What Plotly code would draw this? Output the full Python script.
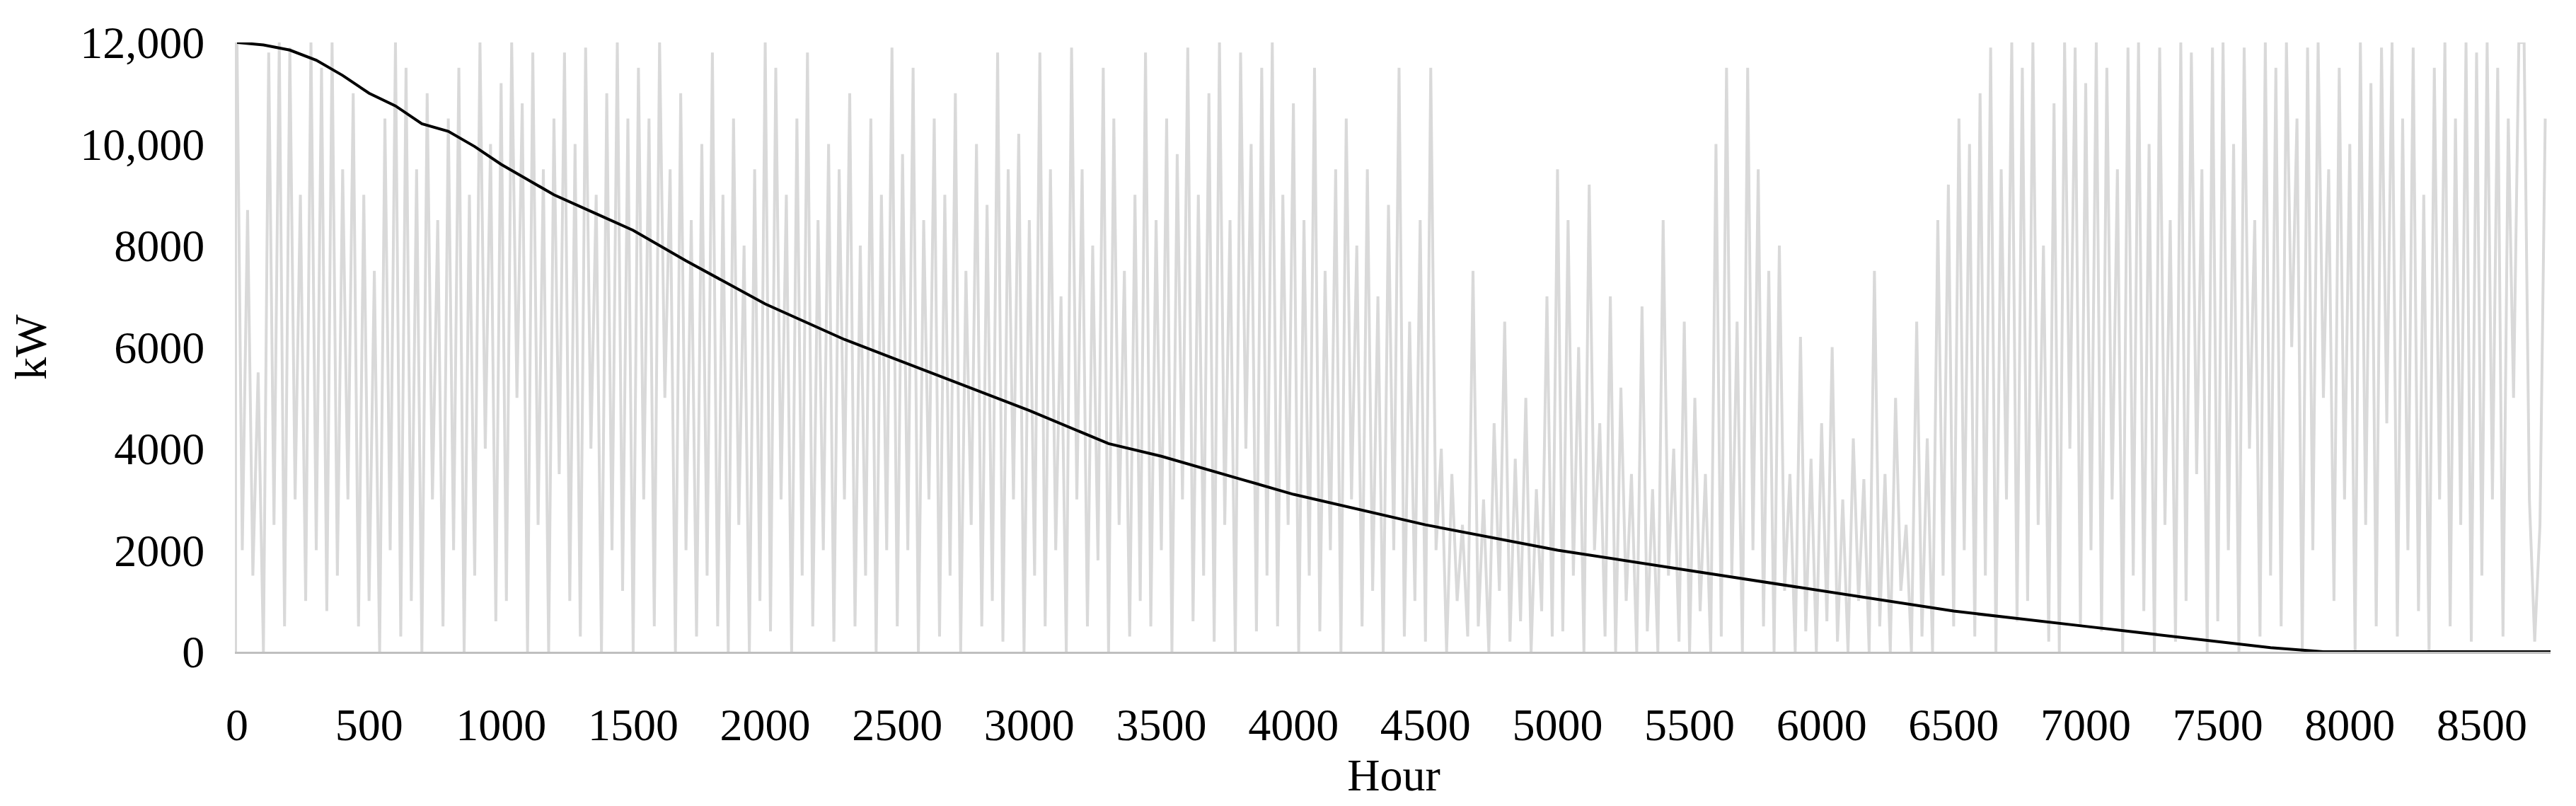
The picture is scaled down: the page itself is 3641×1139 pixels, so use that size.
import plotly.graph_objects as pgo

gray_mw = [
    12.0,2,8.7,1.5,5.5,0,11.8,2.5,12,0.5,11.9,3,9,1,12,2,11.5,0.8,12,1.5,9.5,3,11,0.5,9,
    1,7.5,0,10.5,2,12,0.3,11.5,1,9.5,0,11,3,8.5,0.5,10.5,2,11.5,0,9,1.5,12,4,10,0.6,
    11.2,1,12,5,10.8,0,11.8,2.5,9.5,0,10.5,3.5,11.8,1,10,0.3,11.9,4,9,0,11,2,12,1.2,10.5,
    0,11.5,3,10.5,0.5,12,5,9.5,0,11,2,8.5,0.3,10,1.5,11.8,0.5,9,0,10.5,2.5,8,0,9.5,1,
    12,0.4,11.5,3,9,0,10.5,1.5,11.8,0.5,8.5,2,10,0.2,9.5,3,11,0.5,8,1.5,10.5,0,9,2,11.9,
    0.5,9.8,2,11.5,0,8.5,3,10.5,0.3,9,1.5,11,0,7.5,2.5,10,0.5,8.8,1,11.8,0.2,9.5,3,10.2,0,
    8.5,1.5,11.8,0.5,9.5,2,7,0,11.9,3,9.5,0.5,8,1.8,11.5,0,10.5,2.5,7.5,0.3,9,1,11.8,0.5,8.5,
    2,10.5,0,9.8,3,11.9,0.6,9,1.5,11,0.2,12,2.5,8.5,0,11.8,4,10,0.4,11.5,1.5,12,0.5,9,2.5,
    10.8,0,8.5,1.5,11.5,0.4,7.5,2,9.5,0,10.5,3,8,0.5,9.5,1.2,7,0,8.8,2,11.5,0.3,6.5,1,8.5,
    0.2,11.5,2,4,0,3.5,1,2.5,0.3,7.5,0.5,3,0,4.5,1.2,6.5,0.2,3.8,0.6,5,0,3.2,0.8,7,0.3,
    9.5,0.4,8.5,1.5,6,0,9.2,2,4.5,0.3,7,0,5.2,1,3.5,0,6.8,0.4,3.2,0,8.5,1.5,4,0.2,6.5,
    0,5,0.8,3.5,0,10,0.3,11.5,1.5,6.5,0,11.5,2,9.5,0.5,7.5,0,8,1.2,3.5,0,6.2,0.4,3.8,0,
    4.5,0.6,6,0.2,3,0,4.2,1,3.4,0,7.5,0.5,3.5,0,5,1.2,2.5,0,6.5,0.3,4.2,0,8.5,1.5,9.2,
    0.5,10.5,2,10,0.3,11,1.5,11.9,0,9.5,3,12,0.6,11.5,1,12,2.5,8,0.2,10.8,0,12,4,11.9,0.5,
    11.2,2,12,0.4,11.5,3,9.5,0,11.9,1.5,12,0.8,10,0,11.9,2.5,8.5,0.2,12,1,11.8,3.5,9.5,0,11.9,
    0.6,12,2,10,0,11.9,4,8.5,0.3,12,1.5,11.5,0.5,12,6,10.5,0,11.9,2,12,5,9.5,1,11.5,3,
    10,0,12,2.5,11.2,0.5,11.9,4.5,12,0.3,10.5,2,11.9,0.8,9,0,11.5,3,12,0.5,10.5,2.5,12,0.2,11.8,
    1.5,12,3,11.5,0.3,10.5,5,12,12,3,0.2,2.5,10.5,
]
gray_hours = list(range(0, 20 * len(gray_mw), 20))
gray_kw = [v * 1000 for v in gray_mw]

# duration curve
curve_hours = [0, 100, 200, 300, 400, 500, 600, 700, 800, 900, 1000, 1100, 1200, 1350, 1500, 1700, 2000,
               2300, 2500, 2750, 3000, 3300, 3500, 3800, 4000, 4500, 5000, 5500, 6000, 6500, 7000,
               7500, 7700, 7900, 8760]
curve_kw = [12000, 11950, 11850, 11650, 11350, 11000, 10750, 10400, 10250, 9950, 9600, 9300, 9000, 8650,
            8300, 7700, 6850, 6150, 5750, 5250, 4750, 4100, 3850, 3400, 3100, 2500, 2000, 1600, 1200,
            800, 500, 200, 80, 0, 0]

y_ticks = [0, 2000, 4000, 6000, 8000, 10000, 12000]
y_labels = ["0", "2000", "4000", "6000", "8000", "10,000", "12,000"]

fig = pgo.Figure()
fig.add_trace(pgo.Scatter(x=gray_hours, y=gray_kw, mode="lines",
                          line=dict(color="#d9d9d9", width=4)))
fig.add_trace(pgo.Scatter(x=curve_hours, y=curve_kw, mode="lines",
                          line=dict(color="black", width=4)))

font = dict(family="Liberation Serif", size=64, color="black")
fig.update_layout(width=3641, height=1139, showlegend=False,
                  plot_bgcolor="white", paper_bgcolor="white",
                  margin=dict(l=327, r=44, t=52, b=226), font=font)
fig.update_xaxes(range=[0, 8760], tickvals=list(range(0, 8760, 500)), showgrid=False,
                 zeroline=False, showline=True, linecolor="#bfbfbf", linewidth=3,
                 title=dict(text="Hour", font=font, standoff=10), tickfont=font, ticklen=0,
                 ticklabelstandoff=45)
fig.update_yaxes(range=[0, 12000], tickvals=y_ticks, ticktext=y_labels, showgrid=False,
                 zeroline=False, showline=True, linecolor="#d9d9d9", linewidth=3,
                 title=dict(text="kW", font=font, standoff=35), tickfont=font, ticklen=0,
                 ticklabelstandoff=30)

fig.write_html("out.html")
